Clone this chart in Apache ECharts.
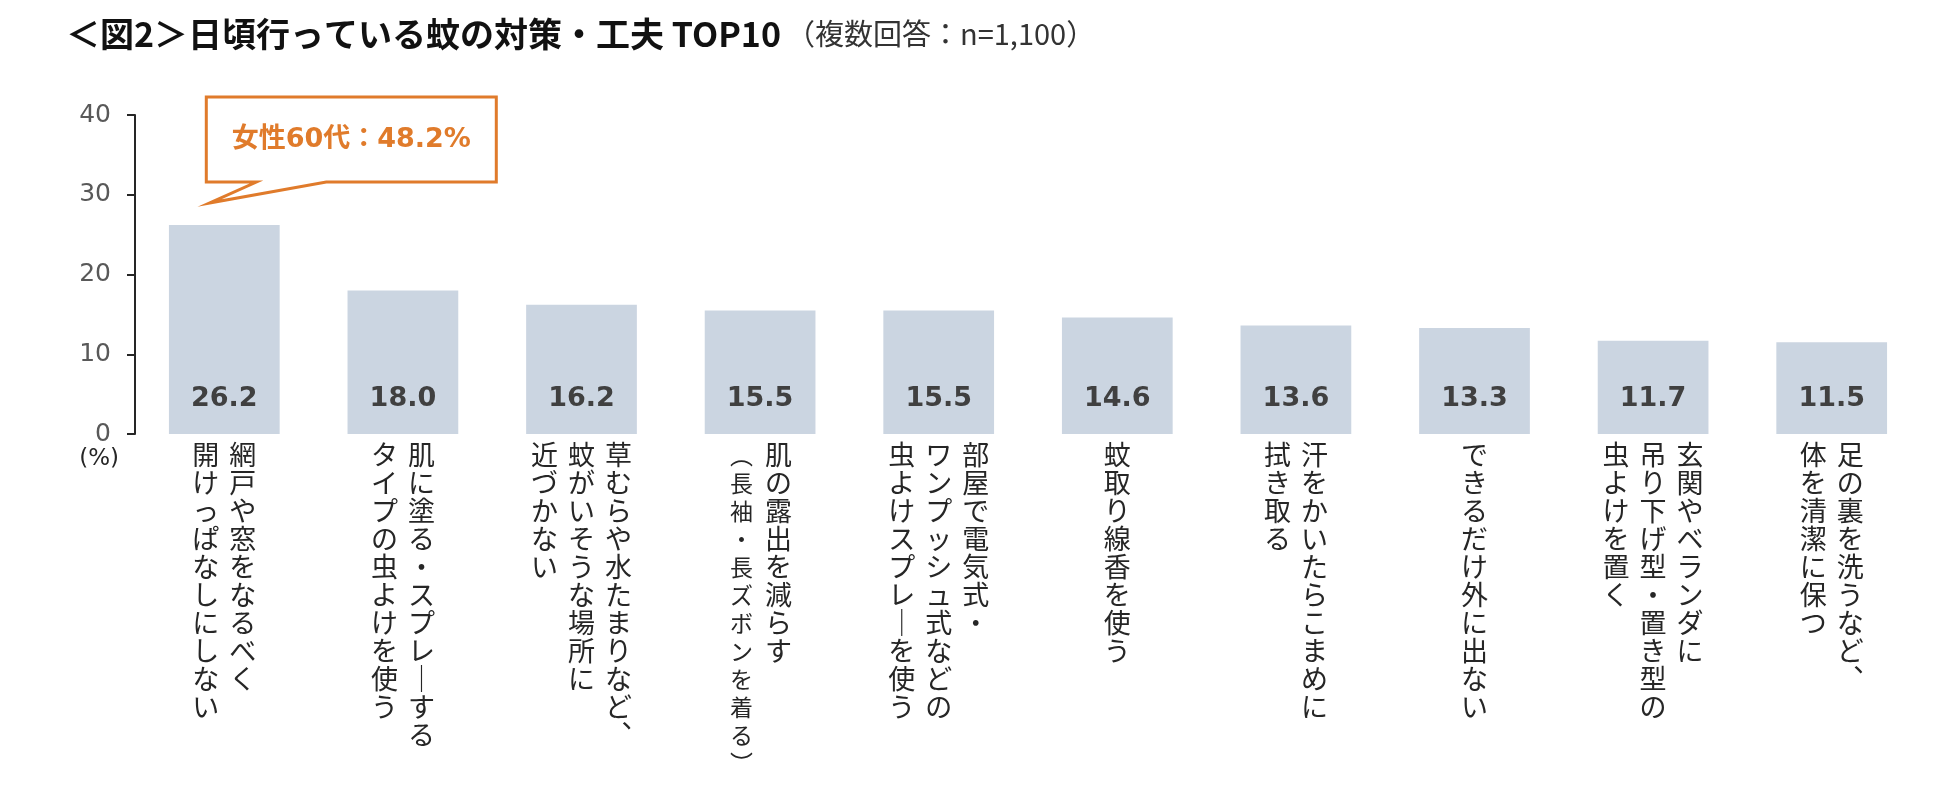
<!DOCTYPE html>
<html lang="ja">
<head>
<meta charset="UTF-8">
<title>日頃行っている蚊の対策・工夫 TOP10</title>
<script src="https://cdn.jsdelivr.net/npm/echarts@6/dist/echarts.min.js"></script>
<style>
    html, body { margin: 0; padding: 0; background: #fff; }
    #chart { width: 1950px; height: 786px; }
</style>
</head>
<body>
<div id="chart"></div>
<script>
// 項目名：\n で縦書きの列を区切る（右の列から順）
var categories = [
    '網戸や窓をなるべく\n開けっぱなしにしない',
    '肌に塗る・スプレーする\nタイプの虫よけを使う',
    '草むらや水たまりなど、\n蚊がいそうな場所に\n近づかない',
    '肌の露出を減らす\n(長袖・長ズボンを着る)',
    '部屋で電気式・\nワンプッシュ式などの\n虫よけスプレーを使う',
    '蚊取り線香を使う',
    '汗をかいたらこまめに\n拭き取る',
    'できるだけ外に出ない',
    '玄関やベランダに\n吊り下げ型・置き型の\n虫よけを置く',
    '足の裏を洗うなど、\n体を清潔に保つ'
];
var values = [26.2, 18.0, 16.2, 15.5, 15.5, 14.6, 13.6, 13.3, 11.7, 11.5];
var yMin = 0, yMax = 40, yStep = 10;
var titleText = '＜図2＞日頃行っている蚊の対策・工夫 TOP10';
var subText = '（複数回答：n=1,100）';
var noteText = '女性60代：48.2%';

var CJK = '"Noto Sans CJK JP", sans-serif';
var NUM = '"DejaVu Sans", "Noto Sans CJK JP", sans-serif';

// 縦書き用の字形に置き換え
var vmap = { 'ー': '｜', '、': '︑', '(': '︵', ')': '︶', '（': '︵', '）': '︶' };

function tate(label) {
    var cols = label.split('\n');
    var n = 0;
    cols.forEach(function (c) { n = Math.max(n, c.length); });
    var rows = [];
    for (var i = 0; i < n; i++) {
        var row = '';
        for (var j = cols.length - 1; j >= 0; j--) {
            var ch = cols[j].charAt(i) || '　';
            ch = vmap[ch] || ch;
            var st = cols[j].charAt(0) === '(' ? 's' : 'c';
            row += '{' + st + '|' + ch + '}';
        }
        rows.push(row);
    }
    return rows.join('\n');
}

var chart = echarts.init(document.getElementById('chart'));

var option = {
    backgroundColor: '#fff',
    animation: false,
    title: {
        text: '{a|' + titleText + '} {b|' + subText + '}',
        left: 66,
        top: 12,
        padding: 0,
        textStyle: {
            rich: {
                a: { fontFamily: CJK, fontSize: 34, fontWeight: 'bold', color: '#111', lineHeight: 44 },
                b: { fontFamily: CJK, fontSize: 29, fontWeight: 'normal', color: '#333', lineHeight: 44 }
            }
        }
    },
    grid: { left: 135, right: 29, top: 115, bottom: 352 },
    xAxis: {
        type: 'category',
        data: categories,
        axisLine: { show: false },
        axisTick: { show: false },
        axisLabel: {
            interval: 0,
            margin: 7,
            formatter: tate,
            rich: {
                c: { width: 37, align: 'center', fontFamily: CJK, fontSize: 27, lineHeight: 28, color: '#262626' },
                s: { width: 37, align: 'center', fontFamily: CJK, fontSize: 23, lineHeight: 27, color: '#262626' }
            }
        }
    },
    yAxis: {
        type: 'value',
        min: yMin,
        max: yMax,
        interval: yStep,
        name: '(%)',
        nameLocation: 'start',
        nameGap: 14,
        nameTextStyle: { align: 'right', padding: [0, 16, 0, 0], fontFamily: NUM, fontSize: 23, color: '#262626' },
        axisLine: { show: true, lineStyle: { color: '#262626', width: 2 } },
        axisTick: { show: true, length: 8, lineStyle: { color: '#262626', width: 2 } },
        axisLabel: { margin: 24, fontFamily: NUM, fontSize: 25, color: '#595959' },
        splitLine: { show: false }
    },
    series: [{
        type: 'bar',
        data: values,
        barWidth: '62%',
        itemStyle: { color: '#cbd5e1' },
        label: {
            show: true,
            position: 'insideBottom',
            distance: 22,
            formatter: function (p) { return p.value.toFixed(1); },
            fontFamily: NUM,
            fontWeight: 'bold',
            fontSize: 27,
            color: '#404040'
        }
    }]
};
chart.setOption(option);

// 吹き出し（1位の棒の上）
var p = chart.convertToPixel({ seriesIndex: 0 }, [0, values[0]]);
var cx = p[0], ty = p[1];
var L = cx - 18, R = cx + 272, T = ty - 128, B = ty - 43;
chart.setOption({
    graphic: [{
        type: 'polygon',
        shape: { points: [[L, T], [R, T], [R, B], [cx + 102, B], [cx - 15, ty - 22], [cx + 32, B], [L, B]] },
        style: { fill: '#fff', stroke: '#e07b2b', lineWidth: 3, lineJoin: 'miter' }
    }, {
        type: 'text',
        x: (L + R) / 2,
        y: (T + B) / 2,
        style: {
            text: noteText,
            align: 'center',
            verticalAlign: 'middle',
            fontFamily: NUM,
            fontWeight: 'bold',
            fontSize: 27,
            fill: '#e07b2b'
        }
    }]
});
</script>
</body>
</html>
